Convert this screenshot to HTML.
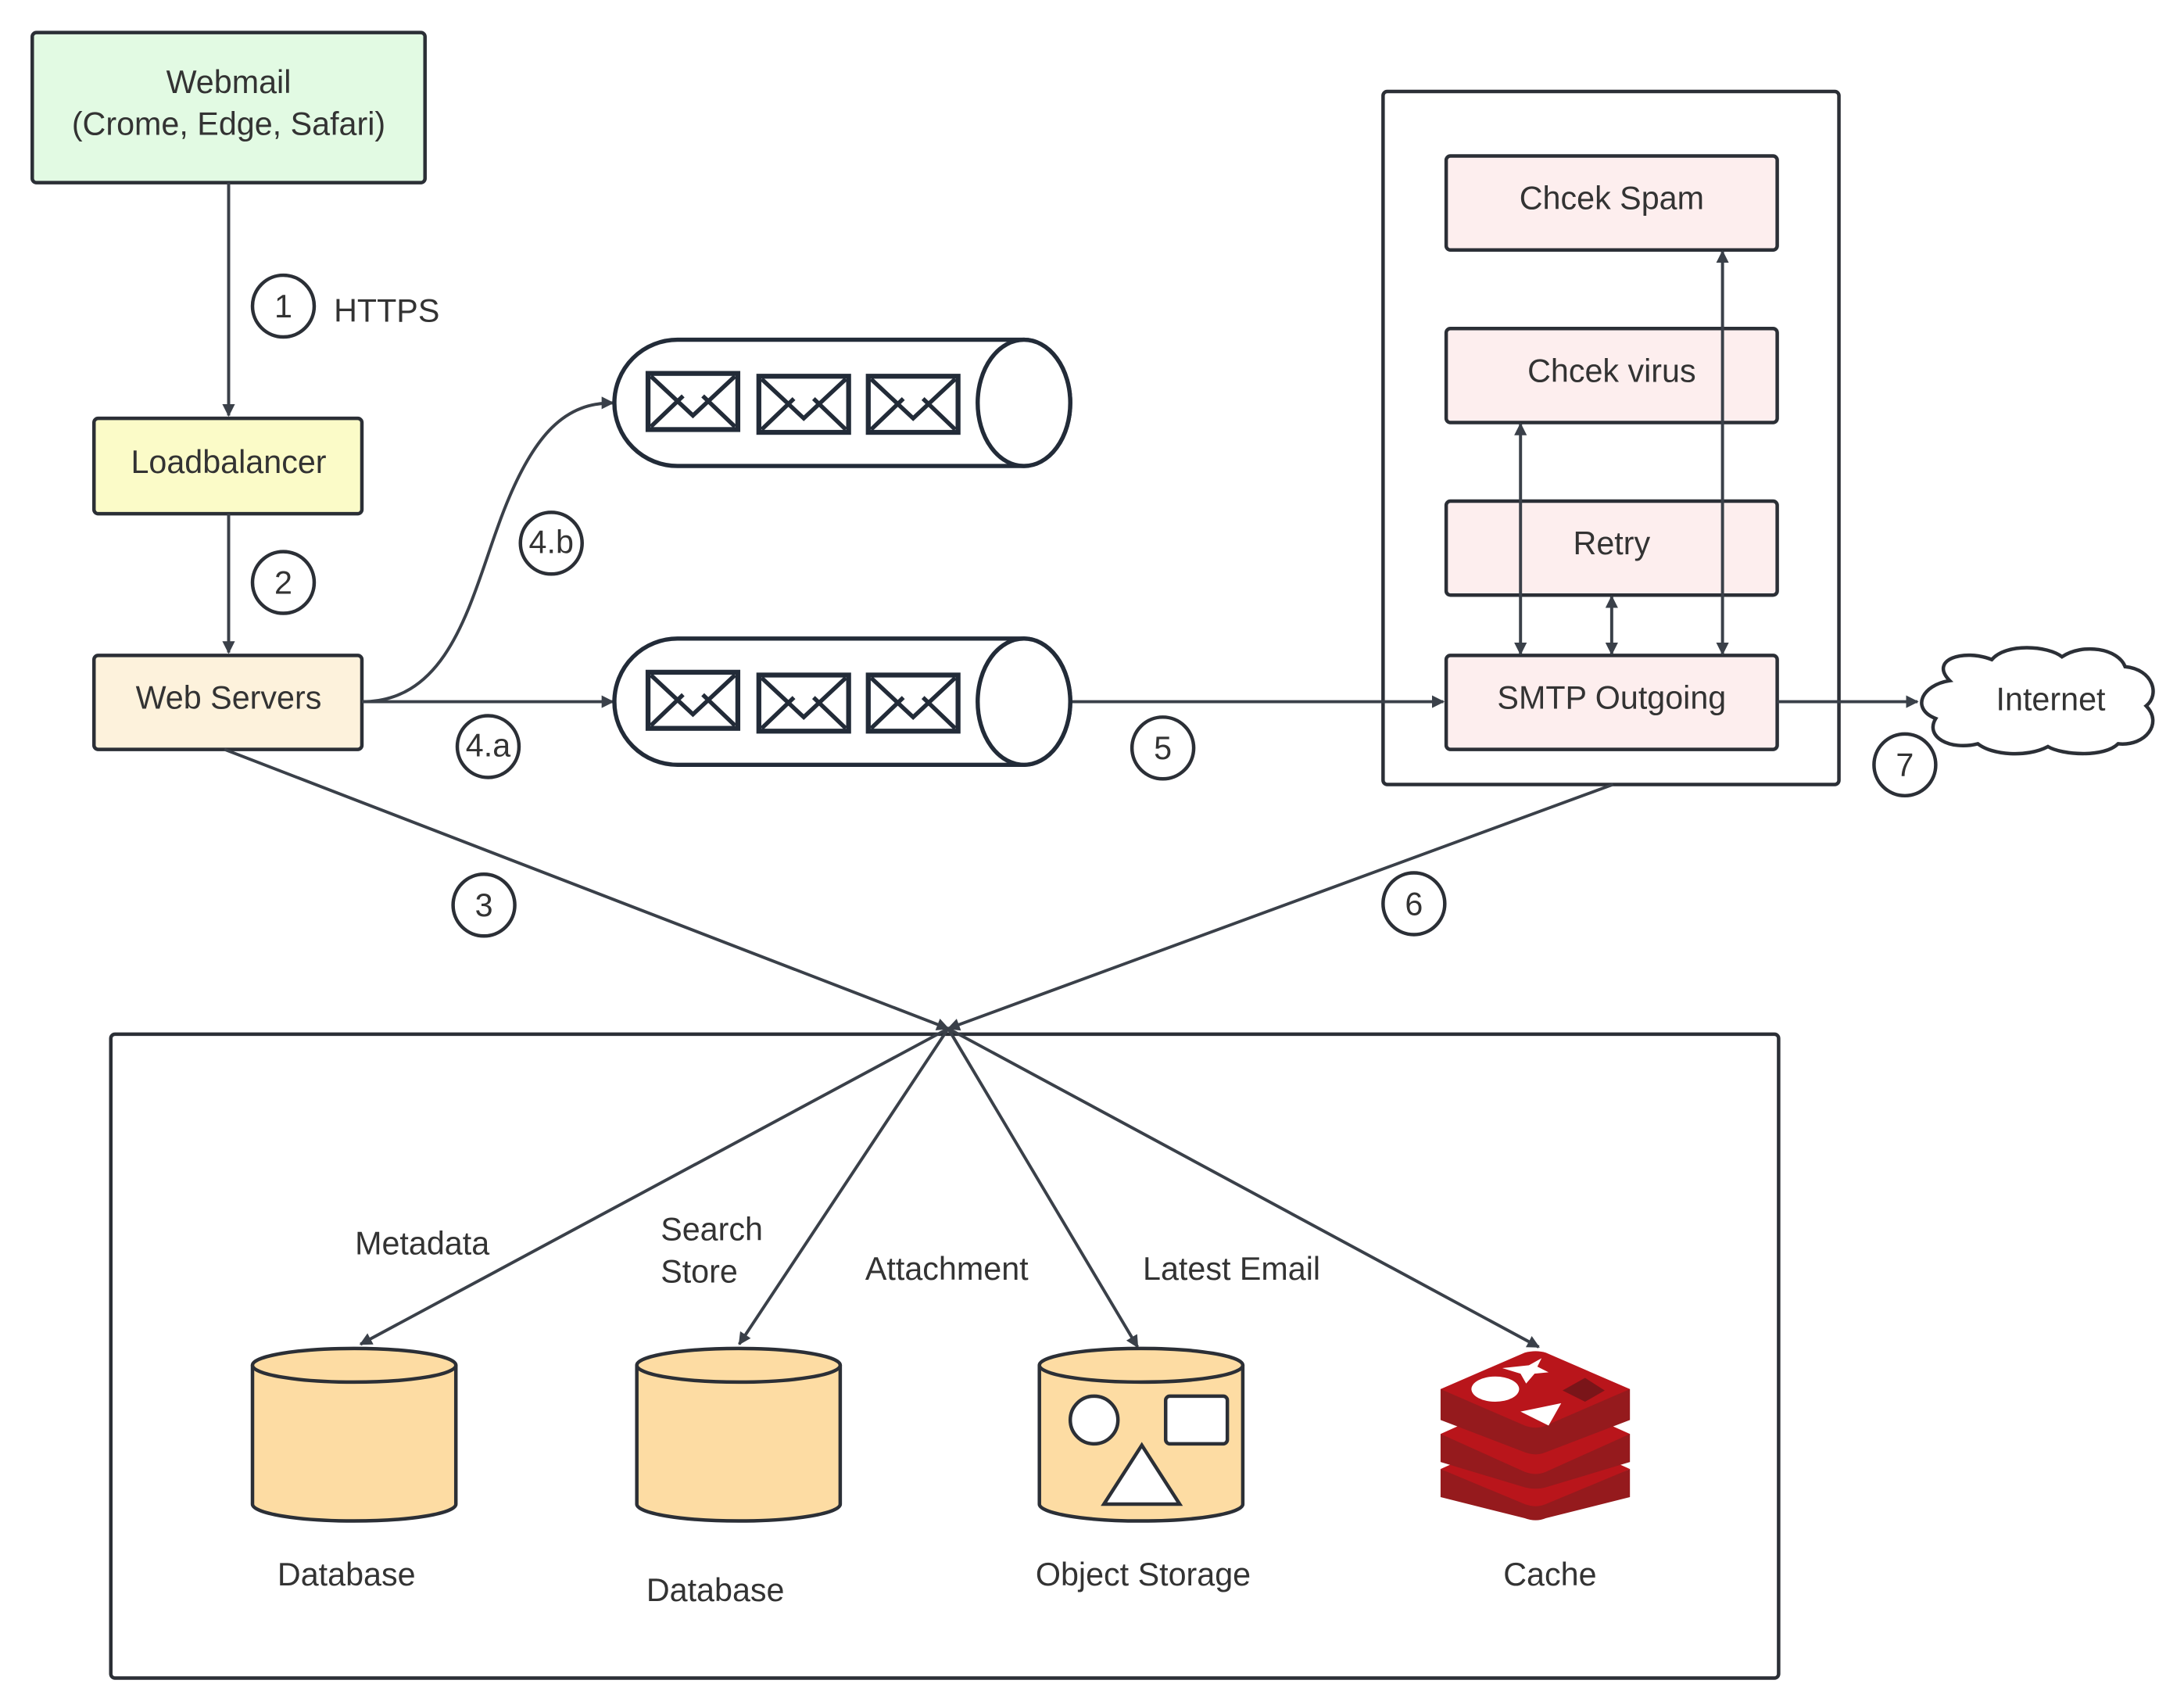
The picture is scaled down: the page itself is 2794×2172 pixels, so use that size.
<!DOCTYPE html>
<html><head><meta charset="utf-8"><style>html,body{margin:0;padding:0;background:#fff}svg{display:block}</style></head>
<body>
<svg width="2794" height="2172" viewBox="0 0 1557 1210" xmlns="http://www.w3.org/2000/svg" font-family="Liberation Sans, sans-serif" fill="#333">
<defs>
<marker id="a" viewBox="0 0 10 10" refX="9" refY="5" markerWidth="9" markerHeight="9" markerUnits="userSpaceOnUse" orient="auto-start-reverse"><path d="M0,0 L10,5 L0,10 Z" fill="#3a4049"/></marker>
<g id="env"><rect x="0" y="0" width="64" height="40" fill="none" stroke="#222b38" stroke-width="3.5"/><path d="M2,2 L32,30 L62,2 M2,38 L25,16 M62,38 L39,16" fill="none" stroke="#222b38" stroke-width="3"/></g>
<g id="q"><path d="M483,0 H730 A33,45 0 0 1 730,90 H483 A45,45 0 0 1 483,0 Z" fill="#fff" stroke="#222b38" stroke-width="3"/><ellipse cx="730" cy="45" rx="33" ry="45" fill="#fff" stroke="#222b38" stroke-width="3"/><use href="#env" x="462" y="24"/><use href="#env" x="541" y="26"/><use href="#env" x="619" y="26"/></g>
</defs>
<g stroke="#2b2f36" stroke-width="2.5">
<rect x="23" y="23" width="280" height="107" rx="3" fill="#e2fae3"/>
<rect x="67" y="298" width="191" height="68" rx="3" fill="#fbfbc8"/>
<rect x="67" y="467" width="191" height="67" rx="3" fill="#fdf2dc"/>
<rect x="986" y="65" width="325" height="494" rx="3" fill="none"/>
<rect x="1031" y="111" width="236" height="67" rx="3" fill="#fdeeee"/>
<rect x="1031" y="234" width="236" height="67" rx="3" fill="#fdeeee"/>
<rect x="1031" y="357" width="236" height="67" rx="3" fill="#fdeeee"/>
<rect x="1031" y="467" width="236" height="67" rx="3" fill="#fdeeee"/>
<rect x="79" y="737" width="1189" height="459" rx="3" fill="none"/>
</g>
<g stroke="#3a4049" stroke-width="2.2" fill="none">
<line x1="163" y1="130" x2="163" y2="296" marker-end="url(#a)"/>
<line x1="163" y1="366" x2="163" y2="465" marker-end="url(#a)"/>
<line x1="258" y1="500" x2="437" y2="500" marker-end="url(#a)"/>
<path d="M258,500 C320,500 335,430 355,375 C380,305 405,287 437,287" marker-end="url(#a)"/>
<line x1="763" y1="500" x2="1029" y2="500" marker-end="url(#a)"/>
<line x1="1267" y1="500" x2="1367" y2="500" marker-end="url(#a)"/>
<line x1="1084" y1="302" x2="1084" y2="466" marker-start="url(#a)" marker-end="url(#a)"/>
<line x1="1149" y1="425" x2="1149" y2="466" marker-start="url(#a)" marker-end="url(#a)"/>
<line x1="1228" y1="179" x2="1228" y2="466" marker-start="url(#a)" marker-end="url(#a)"/>
<line x1="160" y1="534" x2="676" y2="733" marker-end="url(#a)"/>
<line x1="1150" y1="559" x2="676" y2="733" marker-end="url(#a)"/>
<line x1="676" y1="733" x2="257" y2="958" marker-end="url(#a)"/>
<line x1="676" y1="733" x2="527" y2="958" marker-end="url(#a)"/>
<line x1="676" y1="733" x2="811" y2="960" marker-end="url(#a)"/>
<line x1="676" y1="733" x2="1097" y2="960" marker-end="url(#a)"/>
</g>
<use href="#q" y="242"/>
<use href="#q" y="455"/>
<path d="M1390,485 C1375,470 1400,462 1420,470 C1430,458 1460,460 1470,468 C1485,458 1510,462 1515,475 C1535,477 1540,495 1530,503 C1542,515 1530,532 1510,530 C1500,540 1470,538 1460,532 C1445,540 1420,538 1410,530 C1390,535 1372,525 1380,512 C1362,505 1370,488 1390,485 Z" fill="#fff" stroke="#2b2f36" stroke-width="2.5"/>
<g fill="none" stroke="#2b2f36" stroke-width="2.5">
<circle cx="202" cy="218" r="22"/><circle cx="202" cy="415" r="22"/><circle cx="393" cy="387" r="22"/><circle cx="348" cy="532" r="22"/><circle cx="829" cy="533" r="22"/><circle cx="1358" cy="545" r="22"/><circle cx="345" cy="645" r="22"/><circle cx="1008" cy="644" r="22"/>
</g>
<g stroke="#2b2f36" stroke-width="2.5" fill="#fddca3">
<path d="M180,973 V1072 A72.5,12 0 0 0 325,1072 V973"/><ellipse cx="252.5" cy="973" rx="72.5" ry="12"/>
<path d="M454,973 V1072 A72.5,12 0 0 0 599,1072 V973"/><ellipse cx="526.5" cy="973" rx="72.5" ry="12"/>
<path d="M741,973 V1072 A72.5,12 0 0 0 886,1072 V973"/><ellipse cx="813.5" cy="973" rx="72.5" ry="12"/>
<circle cx="780" cy="1012" r="17" fill="#fff"/><rect x="831" y="995" width="44" height="34" rx="3" fill="#fff"/><path d="M814,1030 L787,1072 L841,1072 Z" fill="#fff"/>
</g>
<g transform="translate(1027,962)">
<path d="M0,85 V105 L60,120 Q68,123 75,120 L135,105 V85 L70,110 Z" fill="#951a1d"/>
<path d="M0,85 L60,58 Q68,55 75,58 L135,85 L75,110 Q68,113 60,110 Z" fill="#b9151b"/>
<path d="M0,60 V80 L60,98 Q68,100 75,98 L135,80 V60 Z" fill="#951a1d"/>
<path d="M0,60 L60,33 Q68,30 75,33 L135,60 L75,87 Q68,90 60,87 Z" fill="#b9151b"/>
<path d="M0,28 V50 L60,73 Q68,76 75,73 L135,50 V28 Z" fill="#951a1d"/>
<path d="M0,28 L60,2 Q68,0 75,2 L135,28 L75,54 Q68,57 60,54 Z" fill="#b9151b"/>
<ellipse cx="39" cy="28" rx="17" ry="9" fill="#fff"/>
<path d="M63,11 L44,13 L57,17 L61,24 L67,17 L77,16 L69,12 L72,6 Z" fill="#fff"/>
<path d="M87,29 L103,20 L117,29 L103,37 Z" fill="#7a1519"/>
<path d="M57,44 L86,38 L77,54 Z" fill="#fff"/>
</g>
<g font-size="23" text-anchor="middle">
<text x="163" y="66">Webmail</text><text x="163" y="96">(Crome, Edge, Safari)</text>
<text x="163" y="337">Loadbalancer</text>
<text x="163" y="505">Web Servers</text>
<text x="1149" y="149">Chcek Spam</text>
<text x="1149" y="272">Chcek virus</text>
<text x="1149" y="395">Retry</text>
<text x="1149" y="505">SMTP Outgoing</text>
<text x="1462" y="506">Internet</text>
<text x="202" y="226">1</text><text x="202" y="423">2</text><text x="393" y="394">4.b</text><text x="348" y="539">4.a</text><text x="829" y="541">5</text><text x="1358" y="553">7</text><text x="345" y="653">3</text><text x="1008" y="652">6</text>
<text x="301" y="894">Metadata</text><text x="675" y="912">Attachment</text><text x="878" y="912">Latest Email</text>
<text x="247" y="1130">Database</text><text x="510" y="1141">Database</text><text x="815" y="1130">Object Storage</text><text x="1105" y="1130">Cache</text>
</g>
<g font-size="23"><text x="238" y="229">HTTPS</text><text x="471" y="884">Search</text><text x="471" y="914">Store</text></g>
</svg>
</body></html>
